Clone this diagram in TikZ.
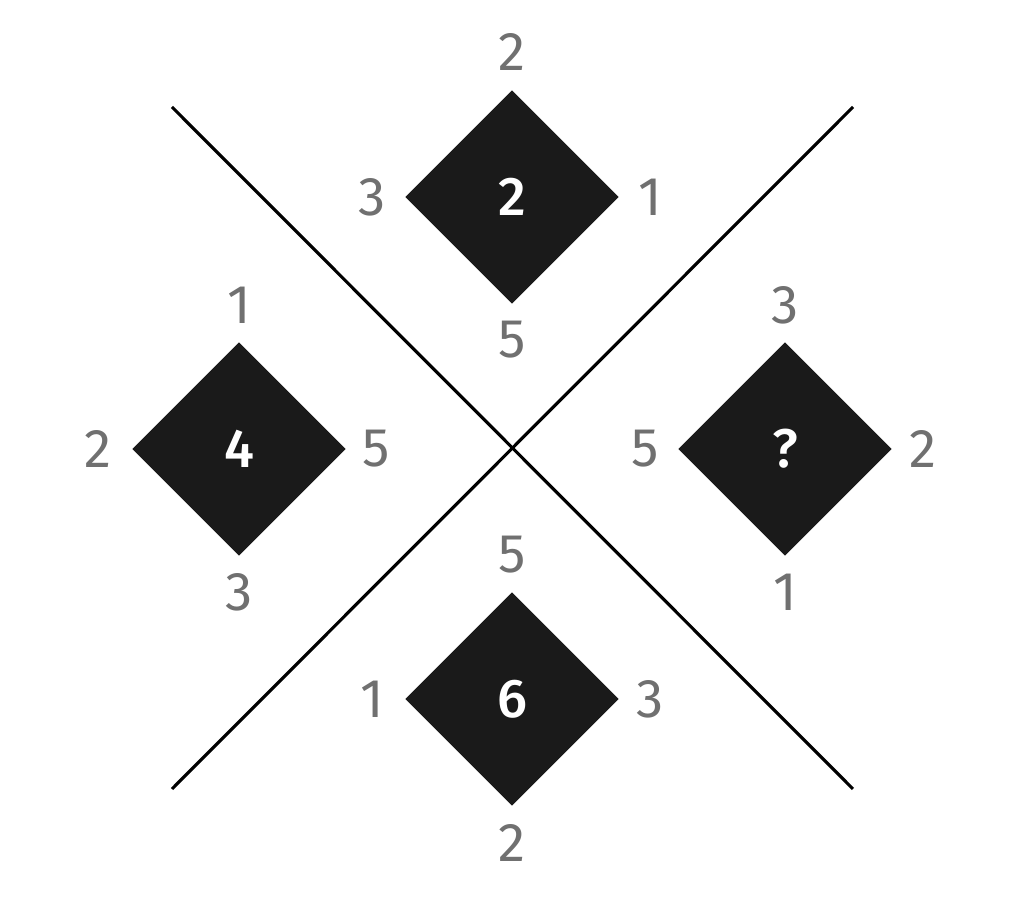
\documentclass[tikz,border=0pt]{standalone}
\usepackage{fontspec}
\setmainfont{Fira Sans}
\newfontfamily\gemfont{Fira Sans Medium}
\usetikzlibrary{shapes.geometric,calc}
\definecolor{gemfill}{HTML}{1A1A1A}
\definecolor{numgray}{HTML}{707070}
\tikzset{
	gem/.style={diamond, fill=gemfill, minimum width=2.14cm, minimum height=2.14cm, inner sep=0pt, text=white, font=\fontsize{15.5}{18}\gemfont},
	num/.style={text=numgray, inner sep=0pt, font=\fontsize{15.5}{18}\selectfont}
}
\begin{document}
\begin{tikzpicture}
	\useasboundingbox (-5.12,-4.49) rectangle (5.12,4.49);
	
	% crossing lines
	\coordinate (nw) at (-3.40, 3.42);
	\coordinate (se) at (3.41, -3.40);
	\coordinate (ne) at (3.41, 3.42);
	\coordinate (sw) at (-3.40, -3.40);
	\draw[line width=0.9pt] (nw) -- (se);
	\draw[line width=0.9pt] (ne) -- (sw);
	
	% top
	\node[gem] (top) at (0, 2.52) {2};
	\node[num] (top-n) at ($(top)+(0, 1.45)$) {2};
	\node[num] (top-w) at ($(top)+(-1.40, 0)$) {3};
	\node[num] (top-e) at ($(top)+(1.38, 0)$) {1};
	\node[num] (top-s) at ($(top)+(0, -1.43)$) {5};
	
	% left
	\node[gem] (left) at (-2.73, 0) {4};
	\node[num] (left-n) at ($(left)+(0, 1.44)$) {1};
	\node[num] (left-w) at ($(left)+(-1.41, 0)$) {2};
	\node[num] (left-e) at ($(left)+(1.37, 0)$) {5};
	\node[num] (left-s) at ($(left)+(0, -1.43)$) {3};
	
	% right
	\node[gem] (right) at (2.73, 0) {?};
	\node[num] (right-n) at ($(right)+(0, 1.44)$) {3};
	\node[num] (right-w) at ($(right)+(-1.40, 0)$) {5};
	\node[num] (right-e) at ($(right)+(1.38, 0)$) {2};
	\node[num] (right-s) at ($(right)+(0, -1.43)$) {1};
	
	% bottom
	\node[gem] (bottom) at (0, -2.50) {6};
	\node[num] (bottom-n) at ($(bottom)+(0, 1.44)$) {5};
	\node[num] (bottom-w) at ($(bottom)+(-1.40, 0)$) {1};
	\node[num] (bottom-e) at ($(bottom)+(1.38, 0)$) {3};
	\node[num] (bottom-s) at ($(bottom)+(0, -1.44)$) {2};
	
\end{tikzpicture}
\end{document}
